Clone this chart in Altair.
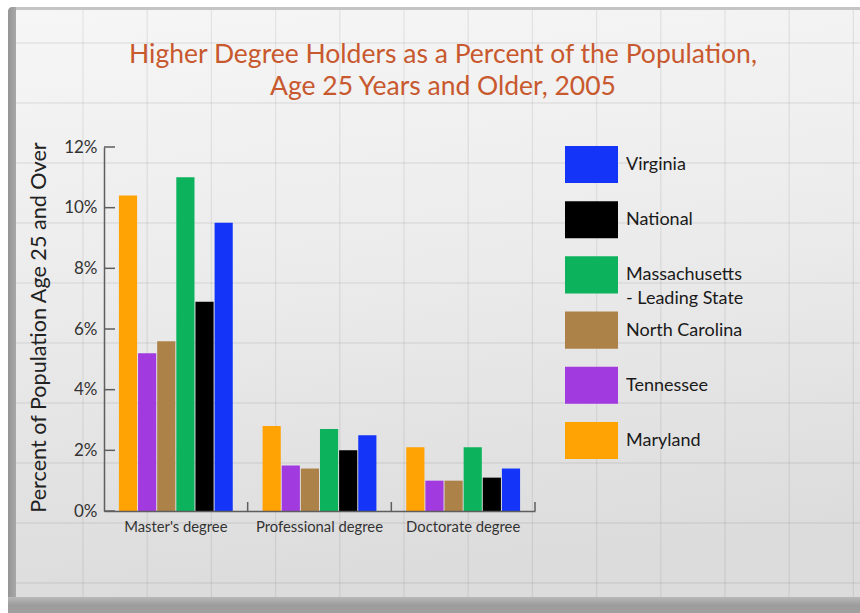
import altair as alt
import pandas as pd

# ---- data -------------------------------------------------------------
degrees = ["Master's degree", "Professional degree", "Doctorate degree"]
bar_order = ["Maryland", "Tennessee", "North Carolina", "Massachusetts", "National", "Virginia"]
legend_order = ["Virginia", "National", "Massachusetts", "North Carolina", "Tennessee", "Maryland"]
legend_labels = ["Virginia", "National", "Massachusetts\n- Leading State",
                 "North Carolina", "Tennessee", "Maryland"]
colors = ["#1434F7", "#000000", "#0DB25C", "#AD8248", "#A23BDF", "#FFA203"]

maryland = [10.4, 2.8, 2.1]
tennessee = [5.2, 1.5, 1.0]
north_carolina = [5.6, 1.4, 1.0]
massachusetts = [11.0, 2.7, 2.1]
national = [6.9, 2.0, 1.1]
virginia = [9.5, 2.5, 1.4]

y_ticks = [0, 2, 4, 6, 8, 10, 12]
title_lines = ["Higher Degree Holders as a Percent of the Population,",
               "Age 25 Years and Older, 2005"]
y_title = "Percent of Population Age 25 and Over"

series = {
    "Maryland": maryland,
    "Tennessee": tennessee,
    "North Carolina": north_carolina,
    "Massachusetts": massachusetts,
    "National": national,
    "Virginia": virginia,
}
rows = [{"degree": d, "state": s, "pct": v[i]}
        for s, v in series.items() for i, d in enumerate(degrees)]
df = pd.DataFrame(rows)
legend_df = pd.DataFrame({"state": legend_order, "label": legend_labels})
ticks_df = pd.DataFrame({"t": y_ticks})
deg_df = pd.DataFrame({"degree": degrees})
one = pd.DataFrame({"_": [0]})

# ---- layout -----------------------------------------------------------
FONT = "Lato"
W, H = 431, 364          # plot area
LEFT, TOP = 104, 147     # plot origin on the page
CANVAS_W, CANVAS_H = 860, 613


def px(x):
    return x - LEFT


def py(y):
    return y - TOP


x_scale = alt.Scale(domain=degrees, paddingInner=0, paddingOuter=0)
y_scale = alt.Scale(domain=[0, 12], nice=False, zero=True)
color_scale = alt.Scale(domain=legend_order, range=colors)
legend_y = alt.Scale(type="point", domain=legend_order, range=[17.5, 293.5], padding=0)

# ---- panel background -------------------------------------------------
frame = alt.Chart(one).mark_rect(color="#c4c4c4", cornerRadius=7).encode(
    x=alt.value(px(8)), x2=alt.value(px(880)),
    y=alt.value(py(7)), y2=alt.value(py(625)))

inner = alt.Chart(one).mark_rect(
    color=alt.Gradient(
        gradient="linear",
        stops=[alt.GradientStop(color="#f6f6f6", offset=0),
               alt.GradientStop(color="#ebebeb", offset=0.5),
               alt.GradientStop(color="#dcdcdc", offset=1)],
        x1=0, x2=0.15, y1=0, y2=1)
).encode(
    x=alt.value(px(16)), x2=alt.value(px(880)),
    y=alt.value(py(10)), y2=alt.value(py(597)))

left_edge = alt.Chart(one).mark_rect(
    color=alt.Gradient(
        gradient="linear",
        stops=[alt.GradientStop(color="#959595", offset=0),
               alt.GradientStop(color="#a8a8a8", offset=1)],
        x1=0, x2=1, y1=0, y2=0),
    cornerRadiusTopLeft=7
).encode(
    x=alt.value(px(8)), x2=alt.value(px(16)),
    y=alt.value(py(7)), y2=alt.value(py(625)))

bottom_band = alt.Chart(one).mark_rect(
    color=alt.Gradient(
        gradient="linear",
        stops=[alt.GradientStop(color="#b8b8b8", offset=0),
               alt.GradientStop(color="#9c9c9c", offset=0.3),
               alt.GradientStop(color="#a6a6a6", offset=1)],
        x1=0, x2=0, y1=0, y2=1)
).encode(
    x=alt.value(px(8)), x2=alt.value(px(880)),
    y=alt.value(py(597)), y2=alt.value(py(625)))

grid_v = alt.Chart(alt.sequence(0, 13, as_="k")).transform_calculate(
    gx=f"{px(83)} + datum.k * 64.2"
).mark_rule(color="#000000", opacity=0.07, strokeWidth=1.3).encode(
    x=alt.X("gx:Q", scale=None, axis=None),
    y=alt.value(py(10)), y2=alt.value(py(597)))

grid_h = alt.Chart(alt.sequence(0, 10, as_="k")).transform_calculate(
    gy=f"{py(43)} + datum.k * 60"
).mark_rule(color="#000000", opacity=0.07, strokeWidth=1.3).encode(
    y=alt.Y("gy:Q", scale=None, axis=None),
    x=alt.value(px(16)), x2=alt.value(px(880)))

# ---- title ------------------------------------------------------------
title = alt.Chart(one).mark_text(
    text=title_lines, font=FONT, fontSize=26.5, color="#C8592F",
    align="center", baseline="alphabetic", lineHeight=32
).encode(x=alt.value(px(443)), y=alt.value(py(63)))

# ---- bars -------------------------------------------------------------
bars = alt.Chart(df).mark_bar().encode(
    x=alt.X("degree:N", sort=degrees, scale=x_scale,
            axis=alt.Axis(title=None, labelAngle=0, ticks=False, domain=True,
                          domainColor="#5e5e5e", domainWidth=1.5,
                          labelFont=FONT, labelFontSize=14.8, labelColor="#333333",
                          labelPadding=8, zindex=2)),
    xOffset=alt.XOffset("state:N", sort=bar_order,
                        scale=alt.Scale(domain=bar_order, paddingInner=0.05, paddingOuter=0.78)),
    y=alt.Y("pct:Q", scale=y_scale,
            axis=alt.Axis(title=y_title, values=y_ticks, labelExpr="datum.value + '%'",
                          ticks=False, grid=False, domain=True,
                          domainColor="#5e5e5e", domainWidth=1.5,
                          labelFont=FONT, labelFontSize=17, labelColor="#333333",
                          labelPadding=7,
                          titleFont=FONT, titleFontSize=21.6, titleFontWeight="normal",
                          titleColor="#222222", titleX=-59, titleY=H / 2 - 2,
                          titleBaseline="alphabetic", zindex=2)),
    color=alt.Color("state:N", scale=color_scale, legend=None),
)

y_tick_marks = alt.Chart(ticks_df).mark_rule(color="#5e5e5e", strokeWidth=1.5).encode(
    y=alt.Y("t:Q", scale=y_scale, axis=None),
    x=alt.value(0), x2=alt.value(11))

x_tick_marks = alt.Chart(deg_df).mark_rule(color="#5e5e5e", strokeWidth=1.5).encode(
    x=alt.X("degree:N", sort=degrees, scale=x_scale, bandPosition=1, axis=None),
    y=alt.value(H), y2=alt.value(H - 9))

# ---- legend -----------------------------------------------------------
swatches = alt.Chart(legend_df).mark_point(
    shape="M-1,-0.7H1V0.7H-1Z", size=2809, filled=True, opacity=1, strokeWidth=0
).encode(
    x=alt.value(px(591.5)),
    y=alt.Y("state:N", scale=legend_y, axis=None),
    color=alt.Color("state:N", scale=color_scale, legend=None))

legend_text = alt.Chart(legend_df).mark_text(
    align="left", baseline="top", dy=-8.5, lineBreak="\n", lineHeight=23.5,
    font=FONT, fontSize=18, color="#1a1a1a"
).encode(
    x=alt.value(px(626)),
    y=alt.Y("state:N", scale=legend_y, axis=None),
    text="label:N")

chart = alt.layer(
    frame, inner, left_edge, bottom_band, grid_v, grid_h, title,
    bars, y_tick_marks, x_tick_marks, swatches, legend_text
).resolve_scale(
    x="independent", y="independent"
).properties(
    width=W, height=H,
    autosize=alt.AutoSizeParams(type="none"),
    padding={"left": LEFT, "top": TOP, "right": CANVAS_W - LEFT - W, "bottom": CANVAS_H - TOP - H},
    background="#ffffff",
).configure_view(stroke=None)

chart.save("out.html", embed_options={"renderer": "svg", "actions": False})
